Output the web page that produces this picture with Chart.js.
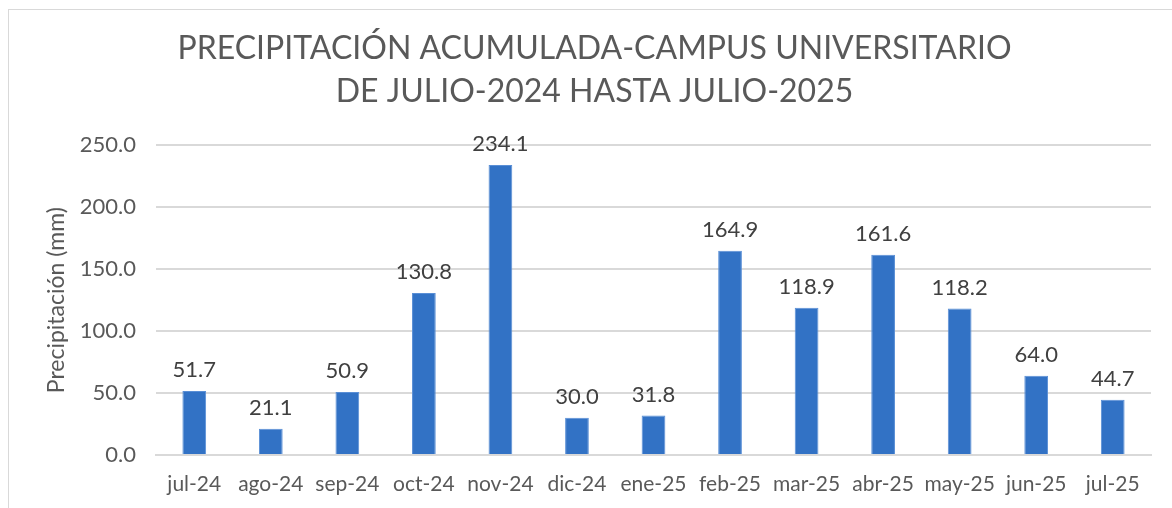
<!DOCTYPE html>
<html>
<head>
    <meta charset="UTF-8">
    <title>Precipitación acumulada - Campus Universitario</title>
    <script src="https://cdn.jsdelivr.net/npm/chart.js@4.4.1/dist/chart.umd.min.js"></script>
    <style type="text/css">
        html, body { margin: 0; padding: 0; background: #ffffff; overflow: hidden; }
        #marco {
            position: absolute; left: 8px; top: 9px; width: 1300px; height: 700px;
            border: 1px solid #d9d9d9; box-sizing: border-box;
        }
        #caja { position: absolute; left: 0; top: 0; width: 1172px; height: 508px; }
    </style>
</head>
<body>
<div id="marco"></div>
<div id="caja">
    <canvas id="lluviaChart" width="1172" height="508"></canvas>
</div>

<script>
    // datos
    const meses = ['jul-24', 'ago-24', 'sep-24', 'oct-24', 'nov-24', 'dic-24', 'ene-25',
                   'feb-25', 'mar-25', 'abr-25', 'may-25', 'jun-25', 'jul-25'];
    const precipitacion = [51.7, 21.1, 50.9, 130.8, 234.1, 30.0, 31.8,
                           164.9, 118.9, 161.6, 118.2, 64.0, 44.7];
    const marcasY = [0, 50, 100, 150, 200, 250];

    const titulo = ['PRECIPITACIÓN ACUMULADA-CAMPUS UNIVERSITARIO', 'DE JULIO-2024 HASTA JULIO-2025'];
    const fuente = 'Lato, "Open Sans", sans-serif';

    // etiquetas de valor encima de cada barra
    const etiquetasBarras = {
        id: 'etiquetasBarras',
        afterDatasetsDraw(chart) {
            const ctx = chart.ctx;
            const meta = chart.getDatasetMeta(0);
            ctx.save();
            ctx.font = '22px ' + fuente;
            ctx.fillStyle = '#404040';
            ctx.textAlign = 'center';
            ctx.textBaseline = 'bottom';
            meta.data.forEach(function(bar, i) {
                ctx.fillText(precipitacion[i].toFixed(1), bar.x, bar.y - 10);
            });
            ctx.restore();
        }
    };

    const ctx = document.getElementById('lluviaChart').getContext('2d');
    new Chart(ctx, {
        type: 'bar',
        data: {
            labels: meses,
            datasets: [{
                label: 'Precipitación (mm)',
                data: precipitacion,
                backgroundColor: '#3272c5',
                borderColor: '#5a8fd6',
                borderWidth: 1,
                barPercentage: 0.62,
                categoryPercentage: 0.5
            }]
        },
        plugins: [etiquetasBarras],
        options: {
            responsive: false,
            animation: false,
            layout: { padding: { left: 38, right: 21, top: 0, bottom: 0 } },
            plugins: {
                legend: { display: false },
                tooltip: { enabled: false },
                title: {
                    display: true,
                    text: titulo,
                    color: '#595959',
                    font: { family: fuente, size: 32, weight: 'normal', lineHeight: 1.35 },
                    padding: { top: 27, bottom: 32 }
                }
            },
            scales: {
                x: {
                    grid: { display: false },
                    border: { color: '#d9d9d9', width: 2 },
                    ticks: { color: '#595959', font: { family: fuente, size: 21 }, padding: 9, maxRotation: 0 },
                    afterFit: function(scale) { scale.height = 53; }
                },
                y: {
                    min: 0,
                    max: 250,
                    afterBuildTicks: function(scale) {
                        scale.ticks = marcasY.map(function(v) { return { value: v }; });
                    },
                    grid: { color: '#d9d9d9', lineWidth: 2, drawTicks: false },
                    border: { display: false },
                    ticks: {
                        color: '#595959',
                        font: { family: fuente, size: 22 },
                        padding: 20,
                        callback: function(v) { return Number(v).toFixed(1); }
                    },
                    title: {
                        display: true,
                        text: 'Precipitación (mm)',
                        color: '#595959',
                        font: { family: fuente, size: 23, weight: 'normal' },
                        padding: { top: 5, bottom: 0 }
                    },
                    afterFit: function(scale) { scale.width = 118; }
                }
            }
        }
    });
</script>
</body>
</html>
